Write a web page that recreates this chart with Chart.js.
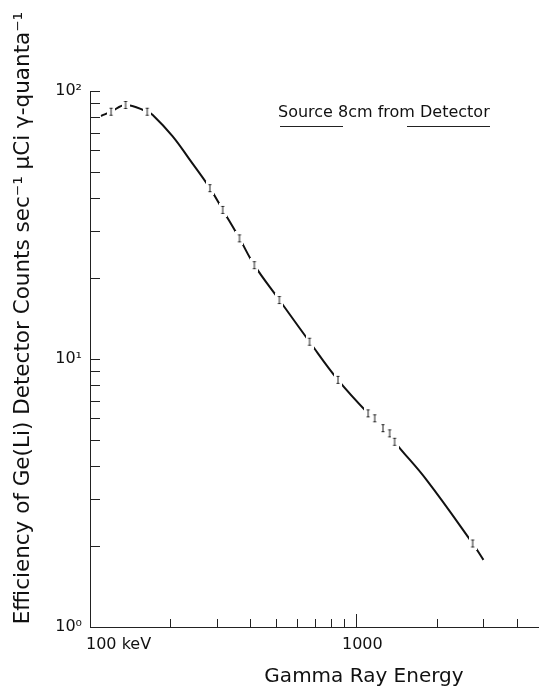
<!DOCTYPE html>
<html>
<head>
<meta charset="utf-8">
<script src="https://cdn.jsdelivr.net/npm/chart.js@4"></script>
<style>
  html, body { margin: 0; padding: 0; background: #fff; overflow: hidden; }
  #wrap { width: 539px; height: 686px; overflow: hidden; }
</style>
</head>
<body>
<div id="wrap"><canvas id="effChart" width="545" height="686"></canvas></div>
<script>
// curve (keV, counts/sec per uCi per quantum)
const curveEnergy = [110, 120, 136, 164, 172, 204, 236, 282, 315, 364, 414, 514, 667, 853, 1107, 1172, 1259, 1334, 1392, 1834, 2733, 3000];
const curveEff = [80.7, 83.7, 88.7, 83.7, 81.4, 67.9, 55.7, 43.4, 36, 28.2, 22.4, 16.6, 11.6, 8.36, 6.27, 6.01, 5.52, 5.28, 4.91, 3.54, 2.05, 1.78];

// measured points with error bars
const pointEnergy = [120, 136, 164, 282, 315, 364, 414, 514, 667, 853, 1107, 1172, 1259, 1334, 1392, 2733];
const pointEff = [83.7, 88.7, 83.7, 43.4, 36, 28.2, 22.4, 16.6, 11.6, 8.36, 6.27, 6.01, 5.52, 5.28, 4.91, 2.05];

const xMajorTicks = [1000];
const xMinorTicks = [200, 300, 400, 500, 600, 700, 800, 900, 2000, 3000, 4000];
const xLabels = [[100, '100 keV'], [1000, '1000']];
const yTicks = [1, 2, 3, 4, 5, 6, 7, 8, 9, 10, 20, 30, 40, 50, 60, 70, 80, 90, 100];
const yLabels = { 1: '10\u2070', 10: '10\u00b9', 100: '10\u00b2' };

const FONT = "'DejaVu Sans', sans-serif";

// little "I" marker, white behind it so the curve breaks around each point
function makeErrorBar() {
  const c = document.createElement('canvas');
  c.width = 8; c.height = 14;
  const g = c.getContext('2d');
  g.fillStyle = '#fff';
  g.fillRect(0, 0, 8, 14);
  g.strokeStyle = '#222';
  g.lineWidth = 1;
  g.beginPath();
  g.moveTo(4, 3); g.lineTo(4, 11);
  g.moveTo(2.5, 3.5); g.lineTo(5.5, 3.5);
  g.moveTo(2.5, 10.5); g.lineTo(5.5, 10.5);
  g.stroke();
  return c;
}

// inward ticks, x labels, axis titles and the underlined note
const decorations = {
  id: 'decorations',
  afterDraw(chart) {
    const ctx = chart.ctx;
    const x = chart.scales.x, y = chart.scales.y;
    ctx.save();
    ctx.strokeStyle = '#222';
    ctx.lineWidth = 1;
    ctx.beginPath();
    yTicks.forEach(v => {
      const py = Math.round(y.getPixelForValue(v)) + 0.5;
      ctx.moveTo(x.left, py);
      ctx.lineTo(x.left + 10, py);
    });
    xMinorTicks.forEach(v => {
      const px = Math.round(x.getPixelForValue(v)) + 0.5;
      ctx.moveTo(px, y.bottom);
      ctx.lineTo(px, y.bottom - 8);
    });
    xMajorTicks.forEach(v => {
      const px = Math.round(x.getPixelForValue(v)) + 0.5;
      ctx.moveTo(px, y.bottom);
      ctx.lineTo(px, y.bottom - 13);
    });
    ctx.stroke();

    ctx.fillStyle = '#111';
    ctx.textBaseline = 'middle';

    // x tick labels: "100 keV" starts at the origin, "1000" sits a bit right of its tick
    ctx.font = '16px ' + FONT;
    ctx.textAlign = 'left';
    ctx.fillText(xLabels[0][1], x.getPixelForValue(xLabels[0][0]) - 4, y.bottom + 18);
    ctx.textAlign = 'center';
    ctx.fillText(xLabels[1][1], x.getPixelForValue(xLabels[1][0]) + 6, y.bottom + 18);

    ctx.font = '20px ' + FONT;
    ctx.textAlign = 'center';
    ctx.fillText('Gamma Ray Energy', 364, 677);

    ctx.save();
    ctx.translate(23, 318);
    ctx.rotate(-Math.PI / 2);
    ctx.font = '21.5px ' + FONT;
    ctx.fillText('Efficiency of Ge(Li) Detector Counts sec\u207b\u00b9 \u03bcCi \u03b3-quanta\u207b\u00b9', 0, 0);
    ctx.restore();

    ctx.font = '16px ' + FONT;
    ctx.textAlign = 'left';
    ctx.fillText('Source 8cm from Detector', 278, 113);
    ctx.beginPath();
    ctx.moveTo(280, 126.5); ctx.lineTo(343, 126.5);
    ctx.moveTo(407, 126.5); ctx.lineTo(490, 126.5);
    ctx.stroke();
    ctx.restore();
  }
};

new Chart(document.getElementById('effChart'), {
  type: 'line',
  data: {
    datasets: [
      {
        label: 'measured',
        type: 'scatter',
        data: pointEnergy.map((e, i) => ({ x: e, y: pointEff[i] })),
        pointStyle: makeErrorBar(),
        pointRadius: 5,
        order: 0
      },
      {
        label: 'efficiency',
        data: curveEnergy.map((e, i) => ({ x: e, y: curveEff[i] })),
        borderColor: '#111',
        borderWidth: 2,
        pointRadius: 0,
        tension: 0.4,
        order: 1
      }
    ]
  },
  options: {
    responsive: false,
    animation: false,
    events: [],
    layout: { padding: { top: 91, right: 0, bottom: 0, left: 0 } },
    plugins: { legend: { display: false }, tooltip: { enabled: false } },
    scales: {
      x: {
        type: 'logarithmic',
        min: 100,
        max: 4850,
        afterBuildTicks: s => { s.ticks = xLabels.map(l => ({ value: l[0] })); },
        afterFit: s => { s.height = 59; },
        grid: { display: false },
        border: { display: true, color: '#222', width: 1 },
        ticks: { display: false }
      },
      y: {
        type: 'logarithmic',
        min: 1,
        max: 100,
        afterBuildTicks: s => { s.ticks = [1, 10, 100].map(v => ({ value: v })); },
        afterFit: s => { s.width = 90; },
        grid: { display: false, tickLength: 0 },
        border: { display: true, color: '#222', width: 1 },
        ticks: {
          padding: 8,
          color: '#111',
          font: { family: FONT, size: 16 },
          callback: v => yLabels[v] || ''
        }
      }
    }
  },
  plugins: [decorations]
});
</script>
</body>
</html>
